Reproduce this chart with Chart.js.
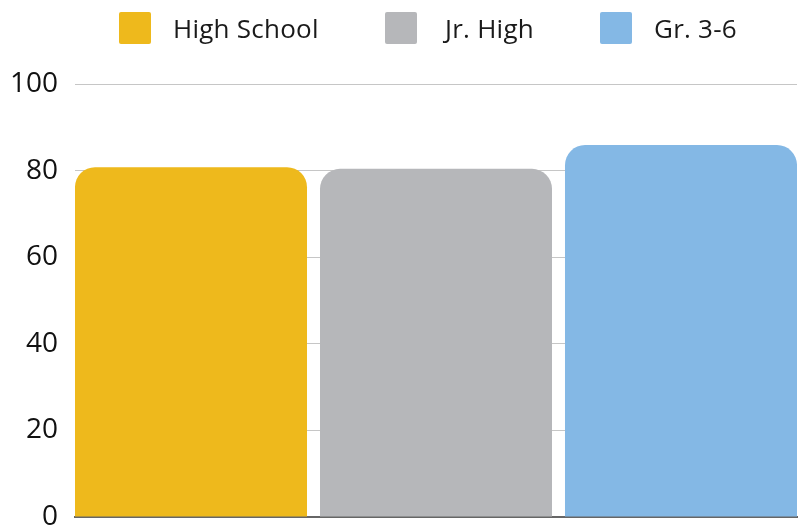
<!DOCTYPE html>
<html>
<head>
<meta charset="utf-8">
<script src="https://cdn.jsdelivr.net/npm/chart.js@4.4.1/dist/chart.umd.min.js"></script>
<style>
  html, body { margin: 0; padding: 0; background: #ffffff; }
  #wrap { position: relative; width: 803px; height: 528px; overflow: hidden; }
  #legend { position: absolute; left: 0; top: 12px; width: 803px; height: 32px;
            font-family: "Open Sans", sans-serif; font-size: 26px; letter-spacing: 0.25px; color: #1a1a1a; white-space: nowrap; z-index: 2; }
  .item { position: absolute; top: 0; height: 32px; display: flex; align-items: center; }
  .item:nth-child(1) { left: 119px; }
  .item:nth-child(2) { left: 385px; }
  .item:nth-child(3) { left: 600px; }
  .box { width: 32px; height: 32px; border-radius: 2px; margin-right: 22px; }
  .item:nth-child(2) .box { margin-right: 28px; }
  .txt { line-height: 32px; }
  canvas { position: absolute; left: 0; top: 0; }
</style>
</head>
<body>
<div id="wrap">
  <div id="legend"></div>
  <canvas id="c" width="803" height="528"></canvas>
</div>
<script>
// ---- data ----
const categories = [''];
const seriesNames = ['High School', 'Jr. High', 'Gr. 3-6'];
const highSchool = [80.8];
const jrHigh = [80.4];
const gr36 = [85.9];
const yTicks = [0, 20, 40, 60, 80, 100];
const colors = ['#EEB91C', '#B6B7BA', '#84B8E5'];

// ---- HTML legend built from the series names/colors ----
const legendEl = document.getElementById('legend');
seriesNames.forEach((name, i) => {
  const item = document.createElement('div');
  item.className = 'item';
  const box = document.createElement('div');
  box.className = 'box';
  box.style.background = colors[i];
  const t = document.createElement('span');
  t.className = 'txt';
  t.textContent = name;
  item.appendChild(box);
  item.appendChild(t);
  legendEl.appendChild(item);
});

const seriesValues = [highSchool, jrHigh, gr36];

new Chart(document.getElementById('c'), {
  type: 'bar',
  data: {
    labels: categories,
    datasets: seriesNames.map((name, i) => ({
      label: name,
      data: seriesValues[i],
      backgroundColor: colors[i],
      borderWidth: 0,
      borderRadius: 20,
      borderSkipped: 'bottom',
      categoryPercentage: 1.018,
      barPercentage: 0.947
    }))
  },
  options: {
    responsive: false,
    animation: false,
    devicePixelRatio: 1,
    layout: { padding: { top: 84, right: 6, bottom: 11, left: 0 } },
    plugins: { legend: { display: false }, tooltip: { enabled: false } },
    scales: {
      x: {
        grid: { display: false },
        ticks: { display: false },
        border: { display: true, color: '#666666', width: 2 },
        afterFit: (s) => { s.height = 0; s.paddingLeft = 0; s.paddingRight = 0; s.paddingTop = 0; s.paddingBottom = 0; }
      },
      y: {
        min: 0,
        max: 100,
        afterBuildTicks: (s) => { s.ticks = yTicks.map(v => ({ value: v })); },
        ticks: {
          padding: 17,
          color: '#111111',
          font: { family: '"Open Sans", sans-serif', size: 28 }
        },
        grid: { color: '#c6c6c6', lineWidth: 1, drawTicks: false },
        border: { display: false },
        afterFit: (s) => { s.width = 75; s.paddingTop = 0; s.paddingBottom = 0; }
      }
    }
  }
});
</script>
</body>
</html>
